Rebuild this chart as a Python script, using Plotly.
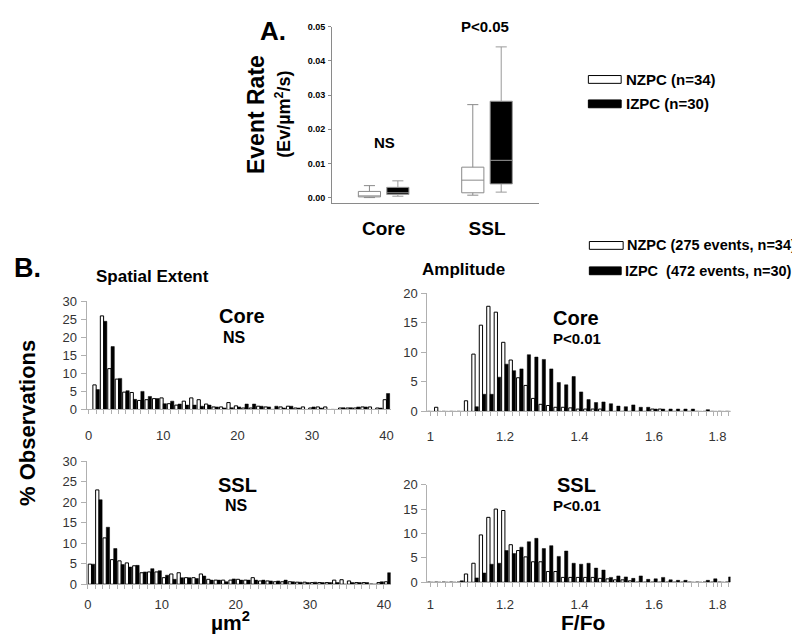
import numpy as np
import plotly.graph_objects as go

W, H = 800, 635
def px(x): return x / W
def py(y): return 1 - y / H

FONT = "Liberation Sans, Arial, sans-serif"
AXIS_GRAY = "#b0b0b0"

# ---------------- Panel A data (box plot summary, event rate) ----------------
regions_A = ["Core", "SSL"]
nzpc_lower = [0.0000, 0.0007]
nzpc_q1 = [0.0002, 0.0014]
nzpc_median = [0.0005, 0.0051]
nzpc_q3 = [0.0018, 0.0089]
nzpc_upper = [0.0035, 0.0272]

izpc_lower = [0.0004, 0.0016]
izpc_q1 = [0.0009, 0.0040]
izpc_median = [0.0014, 0.0109]
izpc_q3 = [0.0030, 0.0282]
izpc_upper = [0.0049, 0.0441]

# ---------------- Panel B data (histograms, % observations) ----------------
core_spatial_bins = np.arange(1, 41)
core_spatial_nzpc = [6.8, 25.9, 11.3, 8.4, 4.8, 4.7, 2.5, 2.7, 3.0, 3.2,
                     1.6, 1.2, 2.3, 3.2, 2.7, 1.5, 0.7, 0.7, 1.9, 1.0,
                     0.4, 0.4, 0.9, 0.7, 0.0, 0.7, 0.9, 0.4, 0.7, 0.4,
                     0.7, 0.7, 0.0, 0.4, 0.4, 0.4, 0.7, 0.7, 0.4, 2.7]
core_spatial_izpc = [5.5, 24.4, 17.4, 8.6, 5.2, 2.8, 5.0, 3.6, 3.0, 1.6,
                     2.3, 1.5, 1.2, 1.2, 0.9, 1.2, 0.7, 0.4, 0.5, 0.7,
                     1.5, 1.5, 0.9, 0.7, 0.9, 0.4, 0.9, 0.4, 0.0, 0.7,
                     0.4, 0.0, 0.0, 0.5, 0.5, 0.7, 0.7, 0.0, 0.4, 4.4]

ssl_spatial_bins = np.arange(0.5, 41, 1.0)
ssl_spatial_nzpc = [4.9, 23.0, 11.3, 6.0, 5.7, 5.2, 4.5, 2.8, 3.0, 3.0,
                    1.6, 2.5, 2.8, 1.6, 1.6, 2.5, 1.2, 1.0, 1.0, 1.0,
                    1.2, 1.0, 1.6, 0.8, 0.8, 0.6, 0.6, 0.6, 0.5, 0.5,
                    0.4, 0.4, 0.4, 1.0, 1.1, 0.8, 0.4, 0.4, 0.0, 0.4, 0.6]
ssl_spatial_izpc = [4.9, 20.6, 13.9, 8.7, 4.8, 4.2, 4.6, 3.0, 3.8, 3.3,
                    2.2, 1.2, 1.6, 1.6, 1.4, 2.0, 1.0, 1.0, 0.6, 1.3,
                    1.0, 1.0, 1.0, 1.0, 0.8, 0.8, 1.0, 0.6, 0.5, 0.4,
                    0.5, 0.4, 0.4, 0.4, 0.0, 0.4, 0.4, 0.4, 0.0, 0.6, 2.8]

amp_bins = np.round(np.arange(1.00, 1.801, 0.02), 2)
core_amp_nzpc = [0, 0.7, 0, 0, 0, 1.8, 9.7, 14.6, 17.8, 16.8,
                 11.7, 8.7, 5.7, 4.4, 2.2, 1.2, 1.0, 0.7, 0.7, 0.6,
                 0.4, 0.4, 0.4, 0.4, 0, 0, 0, 0, 0, 0,
                 0.4, 0.4, 0, 0, 0, 0, 0, 0, 0, 0, 0]
core_amp_izpc = [0, 0, 0, 0, 0, 0, 0.8, 2.9, 2.9, 5.8,
                 8.0, 6.9, 7.2, 9.6, 9.2, 8.8, 7.2, 4.9, 4.5, 5.9,
                 3.3, 2.0, 1.5, 1.6, 1.3, 0.9, 0.8, 1.1, 0.7, 0.7,
                 0.4, 0.4, 0.4, 0.4, 0.4, 0.4, 0, 0.3, 0, 0, 0]
ssl_amp_nzpc = [0, 0, 0, 0, 0, 1.7, 3.9, 9.7, 13.3, 15.0,
                14.7, 7.7, 6.5, 5.2, 4.2, 4.2, 2.2, 2.2, 1.0, 1.0,
                1.0, 1.0, 1.0, 0.8, 0.7, 0.5, 0.5, 0.3, 0, 0,
                0, 0, 0, 0, 0, 0, 0, 0, 0, 0, 0]
ssl_amp_izpc = [0, 0, 0, 0, 0.3, 0, 0.9, 1.9, 3.7, 3.9,
                6.5, 5.9, 7.2, 8.3, 9.0, 6.9, 7.5, 5.3, 6.4, 3.9,
                3.7, 3.9, 2.9, 2.5, 1.0, 1.3, 1.1, 0.8, 1.3, 0.6,
                0.7, 1.0, 0.5, 0.4, 0.4, 0, 0, 0.4, 0.7, 0, 1.1]

spatial_ticks = [0, 10, 20, 30, 40]
amp_tickvals = [1.0, 1.2, 1.4, 1.6, 1.77]
amp_ticktext = ["1", "1.2", "1.4", "1.6", "1.8"]

fig = go.Figure()

# ---------------- Panel A boxes ----------------
fig.add_trace(go.Box(x=regions_A, q1=nzpc_q1, median=nzpc_median, q3=nzpc_q3,
                     lowerfence=nzpc_lower, upperfence=nzpc_upper,
                     fillcolor="white", line=dict(color="#8a8a8a", width=1),
                     whiskerwidth=0.5, name="NZPC", xaxis="x", yaxis="y",
                     boxpoints=False, hoverinfo="skip"))
fig.add_trace(go.Box(x=regions_A, q1=izpc_q1, median=izpc_median, q3=izpc_q3,
                     lowerfence=izpc_lower, upperfence=izpc_upper,
                     fillcolor="black", line=dict(color="#9a9a9a", width=1),
                     whiskerwidth=0.5, name="IZPC", xaxis="x", yaxis="y",
                     boxpoints=False, hoverinfo="skip"))

# ---------------- Panel B histograms ----------------
def add_pair(xs, white, black, xa, ya):
    fig.add_trace(go.Bar(x=xs, y=white, marker=dict(color="white", line=dict(color="black", width=1)),
                         xaxis=xa, yaxis=ya, name="NZPC", hoverinfo="skip"))
    fig.add_trace(go.Bar(x=xs, y=black, marker=dict(color="black", line=dict(color="black", width=0.5)),
                         xaxis=xa, yaxis=ya, name="IZPC", hoverinfo="skip"))

add_pair(core_spatial_bins, core_spatial_nzpc, core_spatial_izpc, "x2", "y2")
add_pair(amp_bins, core_amp_nzpc, core_amp_izpc, "x3", "y3")
add_pair(ssl_spatial_bins, ssl_spatial_nzpc, ssl_spatial_izpc, "x4", "y4")
add_pair(amp_bins, ssl_amp_nzpc, ssl_amp_izpc, "x5", "y5")

tickfont = dict(family=FONT, size=13, color="#333333")

def xhist(dom, rng, tickvals, ticktext, minor_dtick, anchor, standoff):
    return dict(domain=dom, range=rng, anchor=anchor, showgrid=False, zeroline=False,
                showline=True, linecolor=AXIS_GRAY, linewidth=1,
                tickmode="array", tickvals=tickvals, ticktext=ticktext,
                ticks="outside", ticklen=4, tickcolor=AXIS_GRAY,
                minor=dict(ticks="outside", dtick=minor_dtick, ticklen=4, tickcolor=AXIS_GRAY,
                           tick0=0, showgrid=False),
                tickfont=tickfont, ticklabelstandoff=standoff, fixedrange=True)

def yhist(dom, rng, dtick, anchor):
    return dict(domain=dom, range=rng, anchor=anchor, showgrid=False, zeroline=False,
                showline=True, linecolor=AXIS_GRAY, linewidth=1,
                tick0=0, dtick=dtick, ticks="outside", ticklen=5, tickcolor=AXIS_GRAY,
                tickfont=tickfont, ticklabelstandoff=1, fixedrange=True)

xs_dom = [px(77), px(383)]
xa_dom = [px(420), px(725)]

fig.update_layout(
    width=W, height=H, margin=dict(l=0, r=0, t=0, b=0),
    paper_bgcolor="white", plot_bgcolor="white",
    showlegend=False, barmode="group", bargap=0.12, bargroupgap=0.0,
    boxmode="group", boxgap=0.45, boxgroupgap=0.22,
    font=dict(family=FONT, color="black"),
    xaxis=dict(domain=[px(324), px(532)], anchor="y", showgrid=False, zeroline=False,
               showline=True, linecolor="#8a8a8a", linewidth=1, ticks="",
               tickfont=dict(family=FONT, size=19, color="black", weight="bold"),
               ticklabelstandoff=8, fixedrange=True),
    yaxis=dict(domain=[py(193), py(12)], anchor="x", range=[-0.001714, 0.05],
               showgrid=False, zeroline=False, showline=True, linecolor="#8a8a8a", linewidth=1,
               tickvals=[0, 0.01, 0.02, 0.03, 0.04, 0.05], tickformat=".2f",
               ticks="outside", ticklen=3, tickcolor="#8a8a8a",
               tickfont=dict(family=FONT, size=9, color="black", weight="bold"),
               ticklabelstandoff=1, fixedrange=True),
    xaxis2=xhist(xs_dom, [-0.295, 40.56], spatial_ticks, [str(v) for v in spatial_ticks], 1, "y2", 10),
    yaxis2=yhist([py(404), py(293)], [0, 30], 5, "x2"),
    xaxis3=xhist(xa_dom, [0.992, 1.805], amp_tickvals, amp_ticktext, 0.02, "y3", 9),
    yaxis3=yhist([py(406), py(285)], [0, 20], 5, "x3"),
    xaxis4=xhist(xs_dom, [-0.17, 40.9], spatial_ticks, [str(v) for v in spatial_ticks], 1, "y4", 4),
    yaxis4=yhist([py(583), py(457)], [0, 30], 5, "x4"),
    xaxis5=xhist(xa_dom, [0.992, 1.805], amp_tickvals, amp_ticktext, 0.02, "y5", 6),
    yaxis5=yhist([py(581), py(481)], [0, 20], 5, "x5"),
)

ann = []
def text(x, y, s, size, xanchor="center", angle=0, bold=True, yanchor="middle"):
    ann.append(dict(x=px(x), y=py(y), xref="paper", yref="paper", text=f"<b>{s}</b>" if bold else s,
                    showarrow=False, xanchor=xanchor, yanchor=yanchor, textangle=angle,
                    borderpad=0,
                    font=dict(family=FONT, size=size, color="black")))

# Panel A texts
text(265, 16, "A.", 26)
text(247, 102, "Event Rate", 23, angle=-90)
text(275, 102, "(Ev/µm<sup>2</sup>/s)", 18, angle=-90)
text(377, 131, "NS", 15)
text(478, 12, "P&lt;0.05", 15)
text(619, 66, "NZPC (n=34)", 15, xanchor="left")
text(619, 91, "IZPC (n=30)", 15, xanchor="left")

# Panel B texts
text(18, 259, "B.", 27)
text(143, 268, "Spatial Extent", 17)
text(456, 261, "Amplitude", 17)
text(620, 236, "NZPC (275 events, n=34)", 14.5, xanchor="left")
text(618, 262, "IZPC  (472 events, n=30)", 14.5, xanchor="left")
text(17, 418, "% Observations", 22, angle=-90)
text(233, 308, "Core", 20)
text(226, 330, "NS", 16)
text(229, 481, "SSL", 20)
text(228, 502, "NS", 16)
text(570, 310, "Core", 20)
text(571, 331, "P&lt;0.01", 15)
text(570, 481, "SSL", 20)
text(571, 502, "P&lt;0.01", 15)
text(222, 635, "µm<sup>2</sup>", 21, yanchor="bottom")
text(577, 635, "F/Fo", 21, yanchor="bottom")

fig.update_layout(annotations=ann)

# legend swatches
shapes = []
for (x0, x1, y0, y1, fill) in [(582, 615, 62, 70, "white"), (582, 615, 87, 95, "black"),
                                (583, 617, 232, 240, "white"), (583, 615, 258, 266, "black")]:
    shapes.append(dict(type="rect", xref="paper", yref="paper", x0=px(x0), x1=px(x1),
                       y0=py(y1), y1=py(y0), fillcolor=fill, line=dict(color="black", width=1)))
fig.update_layout(shapes=shapes)

fig.write_html("out.html")
